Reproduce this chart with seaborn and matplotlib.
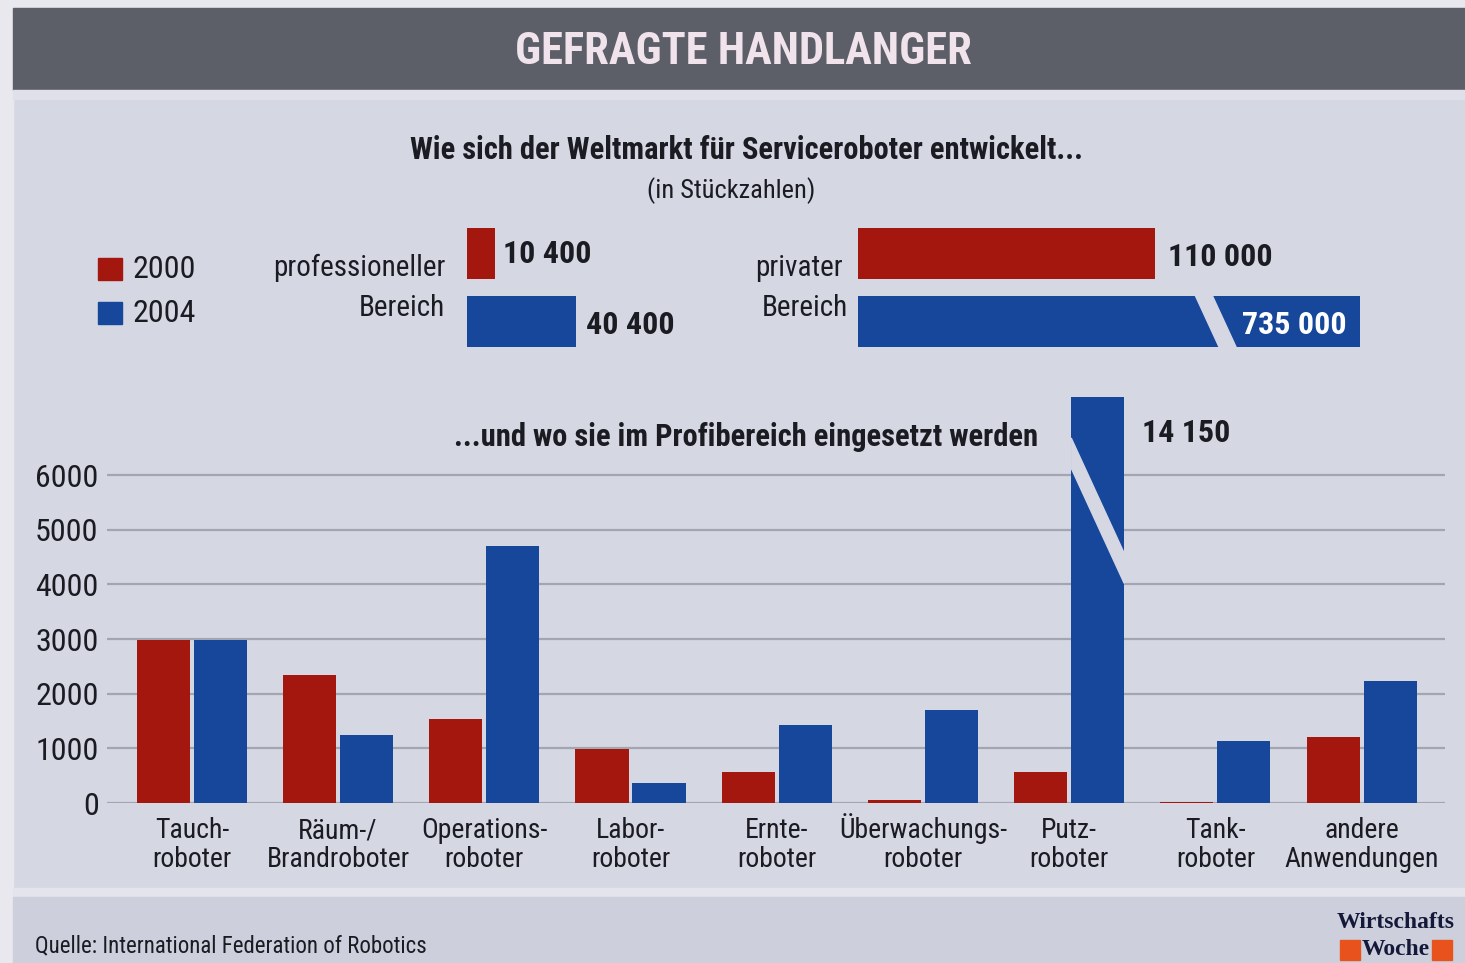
import matplotlib
matplotlib.use("Agg")
import matplotlib.pyplot as plt
from matplotlib import font_manager
from matplotlib.patches import Rectangle, Polygon
from matplotlib.transforms import offset_copy
import pandas as pd
import seaborn as sns

# data
kategorien = ["Tauch-\nroboter", "Räum-/\nBrandroboter", "Operations-\nroboter", "Labor-\nroboter",
              "Ernte-\nroboter", "Überwachungs-\nroboter", "Putz-\nroboter", "Tank-\nroboter",
              "andere\nAnwendungen"]
werte_2000 = [2990, 2350, 1540, 990, 570, 60, 560, 20, 1200]
werte_2004 = [2980, 1240, 4700, 370, 1430, 1700, 14150, 1130, 2230]
jahre = ["2000", "2004"]
profi_werte = [10400, 40400]
privat_werte = [110000, 735000]

W, H = 1465, 963
RED = "#a3170f"
BLUE = "#16479a"
PANEL = "#d5d7e3"
TXT = "#1b1b22"

sns.set_theme(style="white")
names = {f.name for f in font_manager.fontManager.ttflist}
cond = {f.name for f in font_manager.fontManager.ttflist if f.stretch == "condensed"}
FONT = "DejaVu Sans"
for cand in ["Roboto Condensed", "Liberation Sans Narrow", "DejaVu Sans"]:
    if cand in names and (cand in cond or cand != "DejaVu Sans"):
        FONT = cand
        break
plt.rcParams["font.family"] = [FONT, "DejaVu Sans"]
plt.rcParams["font.stretch"] = "condensed"
plt.rcParams["text.color"] = TXT


def px(x, y):
    return x / W, 1 - y / H


fig = plt.figure(figsize=(W / 100, H / 100), dpi=100, facecolor=PANEL)


def rect(x0, y0, x1, y1, color):
    fig.patches.append(Rectangle((x0 / W, 1 - y1 / H), (x1 - x0) / W, (y1 - y0) / H,
                                 transform=fig.transFigure, color=color, zorder=0))


# background pieces
rect(0, 0, 13, H, "#e8e8ee")
rect(0, 0, W, 8, "#e8e8ee")
rect(13, 8, W, 90, "#5c5f68")
rect(13, 90, W, 99, "#dfe0ea")
rect(13, 888, W, 897, "#e3e4ec")
rect(13, 897, W, H, "#cdd0dc")

fig.text(*px(743, 52), "GEFRAGTE HANDLANGER", ha="center", va="center",
         fontsize=32, fontweight="bold", color="#f0e3ec")
fig.text(*px(747, 150), "Wie sich der Weltmarkt für Serviceroboter entwickelt...",
         ha="center", va="center", fontsize=22, fontweight="bold")
fig.text(*px(731, 191), "(in Stückzahlen)", ha="center", va="center", fontsize=19)

# legend
for y, c, lab in [(269, RED, jahre[0]), (313, BLUE, jahre[1])]:
    rect(98, y - 11, 122, y + 11, c)
    fig.text(*px(133, y), lab, ha="left", va="center", fontsize=23)

fig.text(*px(445, 268), "professioneller", ha="right", va="center", fontsize=21)
fig.text(*px(445, 308), "Bereich", ha="right", va="center", fontsize=21)
fig.text(*px(843, 268), "privater", ha="right", va="center", fontsize=21)
fig.text(*px(848, 308), "Bereich", ha="right", va="center", fontsize=21)

# top horizontal bars (same px-per-unit scale)
SCALE = 0.0027
top_y0, top_y1 = 220, 356


def hbar_axes(x0, x1, werte):
    ax = fig.add_axes([x0 / W, 1 - top_y1 / H, (x1 - x0) / W, (top_y1 - top_y0) / H])
    d = pd.DataFrame({"Jahr": jahre, "Stück": werte})
    sns.barplot(data=d, y="Jahr", x="Stück", hue="Jahr", palette=[RED, BLUE],
                width=0.75, saturation=1, legend=False, ax=ax, orient="h", linewidth=0)
    ax.set_xlim(0, (x1 - x0) / SCALE)
    ax.set_ylim(1.5, -0.5)
    ax.set_facecolor("none")
    ax.axis("off")
    return ax


def fmt(v):
    return f"{int(v):,}".replace(",", " ")


ax_pro = hbar_axes(467, 600, profi_werte)
ax_pro.text(profi_werte[0] + 3000, 0, fmt(profi_werte[0]), va="center", ha="left",
            fontsize=23, fontweight="bold")
ax_pro.text(profi_werte[1] + 3700, 1.05, fmt(profi_werte[1]), va="center", ha="left",
            fontsize=23, fontweight="bold", clip_on=False)

ax_pri = hbar_axes(858, 1360, privat_werte)
ax_pri.text(privat_werte[0] + 4800, 0.05, fmt(privat_werte[0]), va="center", ha="left",
            fontsize=23, fontweight="bold")
ax_pri.add_patch(Polygon([(124800, 0.6), (131100, 0.6), (140400, 1.4), (134100, 1.4)],
                         closed=True, color=PANEL, zorder=5))
ax_pri.text(ax_pri.get_xlim()[1] - 5000, 1.05, fmt(privat_werte[1]), va="center", ha="right",
            fontsize=23, fontweight="bold", color="white", zorder=6)

# main grouped bar chart
df = pd.DataFrame({
    "Kategorie": kategorien * 2,
    "Jahr": [jahre[0]] * len(kategorien) + [jahre[1]] * len(kategorien),
    "Stück": werte_2000 + werte_2004,
})
ax = fig.add_axes([107 / W, 1 - 803 / H, (1445 - 107) / W, (803 - 397) / H])
sns.barplot(data=df, x="Kategorie", y="Stück", hue="Jahr", palette=[RED, BLUE],
            width=0.78, gap=0.07, saturation=1, legend=False, ax=ax, linewidth=0)
ax.set_facecolor("none")
ax.set_xlim(-0.58, 8.57)
ax.set_ylim(0, 7430)
ax.set_yticks(range(0, 7000, 1000))
ax.set_xlabel("")
ax.set_ylabel("")
ax.yaxis.grid(True, color="#a3a6b2", lw=1.6)
ax.set_axisbelow(True)
sns.despine(ax=ax, left=True, bottom=True)
ax.tick_params(axis="y", length=0, pad=6, labelsize=23, labelcolor=TXT)
ax.tick_params(axis="x", length=0)

# category labels: two lines each, aligned on baselines (pixel offsets below the axis)
ticks = ax.get_xticks()
ax.set_xticklabels([])
for xt, lab in zip(ticks, kategorien):
    for i, line in enumerate(lab.split("\n")):
        tr = offset_copy(ax.get_xaxis_transform(), fig=fig, y=-(35 + 29 * i), units="dots")
        ax.text(xt, 0, line, transform=tr, ha="center", va="baseline", fontsize=20,
                clip_on=False)

# broken bar (Putz 2004)
putz = max(ax.patches, key=lambda p: p.get_height())
bx0, bx1 = putz.get_x(), putz.get_x() + putz.get_width()
ax.add_patch(Polygon([(bx0, 6680), (bx0, 6130), (bx1, 4020), (bx1, 4570)],
                     closed=True, color=PANEL, zorder=5))
ax.text(bx1 + 0.12, 6770, fmt(putz.get_height()), ha="left", va="center",
        fontsize=23, fontweight="bold")

fig.text(*px(746, 437), "...und wo sie im Profibereich eingesetzt werden", ha="center",
         va="center", fontsize=22, fontweight="bold")

# footer
fig.text(*px(35, 946), "Quelle: International Federation of Robotics", ha="left",
         va="center", fontsize=16.5)
fig.text(*px(1396, 922), "Wirtschafts", ha="center", va="center", fontsize=17,
         fontweight="bold", family="Liberation Serif", color="#14193a")
rect(1340, 940, 1360, 960, "#e8521c")
rect(1432, 940, 1452, 960, "#e8521c")
fig.text(*px(1396, 949), "Woche", ha="center", va="center", fontsize=17,
         fontweight="bold", family="Liberation Serif", color="#14193a")

fig.savefig("out.png", dpi=100, facecolor=fig.get_facecolor())
